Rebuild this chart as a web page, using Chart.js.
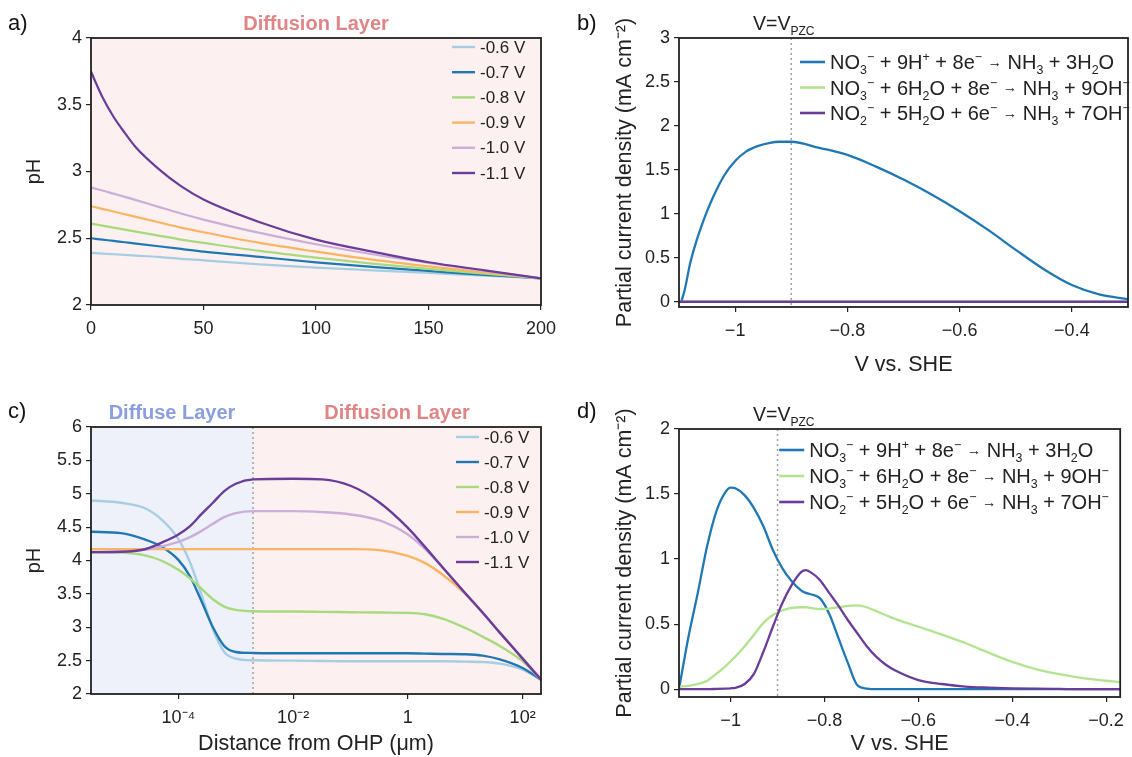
<!DOCTYPE html>
<html>
<head>
<meta charset="utf-8">
<script src="https://cdn.jsdelivr.net/npm/chart.js@4.4.1/dist/chart.umd.min.js"></script>
<style>
  body { margin: 0; background: #fff; width: 1132px; height: 757px; position: relative; overflow: hidden;
         font-family: "Liberation Sans", Arial, sans-serif; }
  canvas { position: absolute; }
  .lbl { position: absolute; font-size: 22px; line-height: 1; color: #111; }
</style>
</head>
<body>
<canvas id="chartA" width="566" height="378" style="left:0;top:0"></canvas>
<canvas id="chartB" width="566" height="378" style="left:566px;top:0"></canvas>
<canvas id="chartC" width="566" height="379" style="left:0;top:378px"></canvas>
<canvas id="chartD" width="566" height="379" style="left:566px;top:378px"></canvas>
<div class="lbl" style="left:8px;top:12px">a)</div>
<div class="lbl" style="left:577px;top:12px">b)</div>
<div class="lbl" style="left:8px;top:400px">c)</div>
<div class="lbl" style="left:577px;top:400px">d)</div>
<script>
// ---- data ----
const voltLabels = ["-0.6 V", "-0.7 V", "-0.8 V", "-0.9 V", "-1.0 V", "-1.1 V"];
const reactLabels = [
  "NO_3^− + 9H^+ + 8e^− → NH_3 + 3H_2O",
  "NO_3^− + 6H_2O + 8e^− → NH_3 + 9OH^−",
  "NO_2^− + 5H_2O + 6e^− → NH_3 + 7OH^−"
];

// a) pH vs distance (um), linear
const distA = [0, 2, 5, 10, 15, 20, 30, 40, 50, 75, 100, 125, 150, 175, 200];
const phA06 = [2.39, 2.388, 2.385, 2.38, 2.375, 2.37, 2.36, 2.345, 2.335, 2.305, 2.28, 2.26, 2.24, 2.22, 2.20];
const phA07 = [2.50, 2.496, 2.49, 2.48, 2.47, 2.46, 2.44, 2.42, 2.40, 2.36, 2.32, 2.285, 2.255, 2.225, 2.20];
const phA08 = [2.61, 2.604, 2.595, 2.58, 2.565, 2.55, 2.52, 2.49, 2.465, 2.405, 2.355, 2.31, 2.27, 2.235, 2.20];
const phA09 = [2.74, 2.732, 2.72, 2.70, 2.68, 2.66, 2.62, 2.58, 2.545, 2.465, 2.40, 2.34, 2.29, 2.245, 2.20];
const phA10 = [2.88, 2.871, 2.858, 2.834, 2.81, 2.786, 2.735, 2.685, 2.64, 2.54, 2.455, 2.38, 2.315, 2.255, 2.20];
const phA11 = [3.75, 3.67, 3.56, 3.41, 3.29, 3.18, 3.02, 2.89, 2.79, 2.62, 2.49, 2.40, 2.32, 2.26, 2.20];

// b) partial current density vs potential
const potB = [-1.096, -1.09, -1.08, -1.07, -1.06, -1.05, -1.04, -1.02, -1.0, -0.98, -0.96, -0.94, -0.92,
              -0.9, -0.85, -0.8, -0.75, -0.7, -0.65, -0.6, -0.55, -0.5, -0.45, -0.4, -0.35, -0.3];
const jB1 = [0, 0.13, 0.44, 0.67, 0.86, 1.03, 1.18, 1.43, 1.60, 1.71, 1.77, 1.805, 1.82,
             1.82, 1.75, 1.67, 1.54, 1.39, 1.22, 1.03, 0.82, 0.59, 0.37, 0.19, 0.08, 0.03];
const potB0 = [-1.1, -0.3];
const jB2 = [0, 0];
const jB3 = [0, 0];

// c) pH vs distance (um), log
const distC = [3e-6, 1e-5, 2.5e-5, 5e-5, 1e-4, 1.6e-4, 2.5e-4, 4e-4, 6.3e-4, 1e-3, 2e-3, 1e-2, 3.2e-2,
               0.1, 0.32, 1, 2, 4, 10, 20, 40, 100, 209];
const phC06 = [4.90, 4.865, 4.79, 4.62, 4.32, 3.97, 3.50, 2.97, 2.63, 2.53, 2.505, 2.50, 2.495,
               2.49, 2.49, 2.49, 2.49, 2.49, 2.485, 2.48, 2.455, 2.365, 2.215];
const phC07 = [4.43, 4.41, 4.32, 4.21, 4.01, 3.76, 3.40, 3.00, 2.72, 2.63, 2.615, 2.61, 2.61,
               2.61, 2.61, 2.61, 2.605, 2.60, 2.595, 2.575, 2.52, 2.39, 2.215];
const phC08 = [4.13, 4.12, 4.08, 4.00, 3.86, 3.73, 3.58, 3.42, 3.31, 3.26, 3.24, 3.235, 3.23,
               3.225, 3.22, 3.215, 3.195, 3.13, 2.99, 2.86, 2.72, 2.49, 2.215];
const phC09 = [4.17, 4.17, 4.17, 4.17, 4.17, 4.17, 4.17, 4.17, 4.17, 4.17, 4.17, 4.17, 4.17,
               4.17, 4.155, 4.07, 3.96, 3.79, 3.50, 3.22, 2.92, 2.53, 2.215];
const phC10 = [4.12, 4.13, 4.16, 4.21, 4.28, 4.35, 4.44, 4.55, 4.65, 4.71, 4.74, 4.74, 4.725,
               4.69, 4.60, 4.39, 4.17, 3.90, 3.51, 3.22, 2.92, 2.53, 2.215];
const phC11 = [4.125, 4.13, 4.165, 4.265, 4.39, 4.515, 4.69, 4.865, 5.04, 5.15, 5.215, 5.225, 5.215,
               5.12, 4.87, 4.49, 4.20, 3.90, 3.51, 3.22, 2.92, 2.53, 2.215];
const tickValsC = [1e-4, 1e-2, 1, 100];
const tickLabelsC = ["10⁻⁴", "10⁻²", "1", "10²"];

// d) partial current density vs potential
const potD = [-1.11, -1.09, -1.07, -1.05, -1.03, -1.01, -1.0, -0.99, -0.97, -0.95, -0.93, -0.91,
              -0.89, -0.87, -0.85, -0.84, -0.83, -0.81, -0.79, -0.77, -0.75, -0.73, -0.71, -0.69,
              -0.67, -0.65, -0.6, -0.55, -0.5, -0.45, -0.4, -0.35, -0.3, -0.25, -0.2, -0.17];
const jD1 = [0, 0.40, 0.74, 1.10, 1.37, 1.52, 1.55, 1.545, 1.49, 1.39, 1.25, 1.07,
             0.93, 0.83, 0.76, 0.74, 0.73, 0.70, 0.58, 0.39, 0.20, 0.03, 0.005, 0,
             0, 0, 0, 0, 0, 0, 0, 0, 0, 0, 0, 0];
const jD2 = [0.02, 0.025, 0.04, 0.065, 0.12, 0.18, 0.215, 0.25, 0.33, 0.42, 0.51, 0.57,
             0.605, 0.625, 0.63, 0.63, 0.625, 0.615, 0.62, 0.63, 0.64, 0.645, 0.63, 0.60,
             0.57, 0.54, 0.48, 0.42, 0.355, 0.28, 0.21, 0.155, 0.115, 0.085, 0.065, 0.055];
const jD3 = [0, 0, 0, 0, 0.002, 0.005, 0.007, 0.01, 0.04, 0.12, 0.29, 0.48,
             0.66, 0.80, 0.90, 0.915, 0.90, 0.84, 0.74, 0.64, 0.53, 0.43, 0.33, 0.25,
             0.19, 0.145, 0.07, 0.04, 0.02, 0.012, 0.007, 0.004, 0.002, 0, 0, 0];

const ticksPh = [2, 2.5, 3, 3.5, 4, 4.5, 5, 5.5, 6];
const ticksJB = [0, 0.5, 1, 1.5, 2, 2.5, 3];
const ticksJD = [0, 0.5, 1, 1.5, 2];
const ticksVB = [-1, -0.8, -0.6, -0.4];
const ticksVD = [-1, -0.8, -0.6, -0.4, -0.2];

// ---- styling ----
const FONT = '"Liberation Sans", Arial, sans-serif';
Chart.defaults.font.family = FONT;
Chart.defaults.color = "#222";
const voltColors = ["#a6cee3", "#1f78b4", "#a8d97c", "#fcb462", "#cbaed8", "#6a3d9a"];
const reactColors = ["#1f78b4", "#b2e38f", "#6a3d9a"];
const PINK = "#fcf0f0", LAV = "#eef1f9";

function richParts(str) {
  const out = [];
  let i = 0;
  while (i < str.length) {
    let c = str[i], mode = 0;
    if ((c === "_" || c === "^") && i + 1 < str.length) {
      mode = c === "_" ? 1 : 2;
      i++;
      if (str[i] === "{") { const j = str.indexOf("}", i); c = str.slice(i + 1, j); i = j + 1; }
      else { c = str[i]; i++; }
    } else i++;
    out.push({ t: c, mode });
  }
  return out;
}
function drawRich(ctx, str, x, y, size) {
  richParts(str).forEach(p => {
    let s = size, dy = 0;
    if (p.mode === 1) { s = size * 0.62; dy = size * 0.26; }
    else if (p.mode === 2) { s = size * 0.62; dy = -size * 0.4; }
    else if (p.t === "→") { s = size * 0.72; dy = -size * 0.12; }
    ctx.font = s + "px " + FONT;
    ctx.fillText(p.t, x, y + dy);
    x += ctx.measureText(p.t).width;
  });
}

const decor = {
  id: "decor",
  beforeDraw(chart, args, o) {
    const { ctx, chartArea: a } = chart;
    const x = chart.scales.x;
    ctx.save();
    (o.bands || []).forEach(b => {
      const x0 = b.from == null ? a.left : x.getPixelForValue(b.from);
      const x1 = b.to == null ? a.right : x.getPixelForValue(b.to);
      ctx.fillStyle = b.color;
      ctx.fillRect(x0, a.top, x1 - x0, a.bottom - a.top);
      if (b.title) {
        ctx.fillStyle = b.titleColor;
        ctx.font = "bold 20px " + FONT;
        ctx.textAlign = "center";
        ctx.textBaseline = "alphabetic";
        ctx.fillText(b.title, (x0 + x1) / 2, a.top - 8);
      }
    });
    if (o.vline != null) {
      const px = x.getPixelForValue(o.vline);
      ctx.strokeStyle = "#a0a0a0";
      ctx.lineWidth = 1.5;
      ctx.setLineDash([2, 3]);
      ctx.beginPath();
      ctx.moveTo(px, a.top);
      ctx.lineTo(px, a.bottom);
      ctx.stroke();
      ctx.setLineDash([]);
    }
    if (o.pzc) {
      ctx.fillStyle = "#222";
      ctx.textAlign = "left";
      ctx.textBaseline = "alphabetic";
      drawRich(ctx, "V=V_{PZC}", a.left + 74, a.top - 8, 19.5);
    }
    ctx.restore();
  },
  afterDraw(chart, args, o) {
    const { ctx, chartArea: a } = chart;
    ctx.save();
    ctx.strokeStyle = "#222";
    ctx.lineWidth = 1.8;
    ctx.strokeRect(a.left, a.top, a.right - a.left, a.bottom - a.top);
    const lg = o.legend;
    if (lg) {
      chart.data.datasets.forEach((ds, i) => {
        const y = a.top + lg.y + i * lg.dy;
        const x0 = a.right - lg.x;
        ctx.strokeStyle = ds.borderColor;
        ctx.lineWidth = lg.lw;
        ctx.beginPath();
        ctx.moveTo(x0, y);
        ctx.lineTo(x0 + lg.len, y);
        ctx.stroke();
        ctx.fillStyle = "#222";
        ctx.textAlign = "left";
        if (lg.rich) {
          ctx.textBaseline = "alphabetic";
          drawRich(ctx, ds.label, x0 + lg.len + 5, y + lg.size * 0.36, lg.size);
        } else {
          ctx.textBaseline = "middle";
          ctx.font = lg.size + "px " + FONT;
          ctx.fillText(ds.label, x0 + lg.len + 5, y + 1);
        }
      });
    }
    ctx.restore();
  }
};
Chart.register(decor);

function series(label, xs, ys, color, width, i) {
  return {
    label, borderColor: color, backgroundColor: color, borderWidth: width,
    data: xs.map((x, k) => ({ x, y: ys[k] })),
    pointRadius: 0, cubicInterpolationMode: "monotone", order: -i
  };
}
const minus = v => (v < 0 ? "−" + Math.abs(v) : String(v));

function axis(extra, fit, ticks, titleText, titleSize, titlePad) {
  const ax = Object.assign({
    grid: { drawOnChartArea: false, drawTicks: true, tickLength: 5, color: "#222", lineWidth: 1.2 },
    border: { display: false },
    ticks: Object.assign({ color: "#222", font: { size: 18 }, padding: 4, maxRotation: 0, autoSkip: false,
                           callback: minus }, ticks || {}),
    afterFit: fit
  }, extra);
  if (titleText) {
    ax.title = { display: true, text: titleText, color: "#222",
                 font: { size: titleSize, lineHeight: 1.2 }, padding: { top: titlePad, bottom: 0 } };
  }
  return ax;
}
function setTicks(vals) {
  return s => { s.ticks = vals.map(v => ({ value: v })); };
}
function baseOpts(pad, scales, decorOpts) {
  return {
    responsive: false, animation: false, events: [],
    layout: { padding: pad },
    plugins: { legend: { display: false }, tooltip: { enabled: false }, decor: decorOpts },
    scales
  };
}

// a)
new Chart(document.getElementById("chartA"), {
  type: "line",
  data: { datasets: [phA06, phA07, phA08, phA09, phA10, phA11].map((d, i) =>
    series(voltLabels[i], distA, d, voltColors[i], 2.2, i)) },
  options: baseOpts({ left: 0, top: 38, right: 25, bottom: 0 }, {
    x: axis({ type: "linear", min: 0, max: 200, afterBuildTicks: setTicks([0, 50, 100, 150, 200]) },
      s => { s.height = 73; }, { padding: 8 }),
    y: axis({ type: "linear", min: 2, max: 4, afterBuildTicks: setTicks(ticksPh.slice(0, 5)) },
      s => { s.width = 91; }, null, "pH", 20, 22)
  }, {
    bands: [{ color: PINK, title: "Diffusion Layer", titleColor: "#e08585" }],
    legend: { x: 89, y: 9, dy: 25.2, len: 23, lw: 2.4, size: 17 }
  })
});

// b)
new Chart(document.getElementById("chartB"), {
  type: "line",
  data: { datasets: [
    series(reactLabels[0], potB, jB1, reactColors[0], 2.3, 0),
    series(reactLabels[1], potB0, jB2, reactColors[1], 2.3, 1),
    series(reactLabels[2], potB0, jB3, reactColors[2], 2.3, 2)
  ] },
  options: baseOpts({ left: 0, top: 38, right: 4, bottom: 0 }, {
    x: axis({ type: "linear", min: -1.1, max: -0.3, afterBuildTicks: setTicks(ticksVB) },
      s => { s.height = 71; }, { padding: 8 }, "V vs. SHE", 21.5, 13),
    y: axis({ type: "linear", min: -0.06, max: 3, afterBuildTicks: setTicks(ticksJB) },
      s => { s.width = 113; }, null, "Partial current density (mA cm⁻²)", 21.5, 46)
  }, {
    vline: -0.9, pzc: true,
    legend: { x: 328, y: 24, dy: 25.5, len: 25, lw: 2.6, size: 20, rich: true }
  })
});

// c)
new Chart(document.getElementById("chartC"), {
  type: "line",
  data: { datasets: [phC06, phC07, phC08, phC09, phC10, phC11].map((d, i) =>
    series(voltLabels[i], distC, d, voltColors[i], 2.4, i)) },
  options: baseOpts({ left: 0, top: 49, right: 25, bottom: 0 }, {
    x: axis({ type: "logarithmic", min: 3e-6, max: 209, afterBuildTicks: setTicks(tickValsC) },
      s => { s.height = 63; },
      { padding: 8, callback: v => tickLabelsC[tickValsC.indexOf(v)] },
      "Distance from OHP (μm)", 21.5, 0),
    y: axis({ type: "linear", min: 2, max: 6, afterBuildTicks: setTicks(ticksPh) },
      s => { s.width = 91; }, null, "pH", 20, 22)
  }, {
    bands: [
      { to: 2e-3, color: LAV, title: "Diffuse Layer", titleColor: "#8a9ee0" },
      { from: 2e-3, color: PINK, title: "Diffusion Layer", titleColor: "#e08585" }
    ],
    vline: 2e-3,
    legend: { x: 85, y: 10, dy: 25, len: 23, lw: 2.4, size: 17 }
  })
});

// d)
new Chart(document.getElementById("chartD"), {
  type: "line",
  data: { datasets: [jD1, jD2, jD3].map((d, i) => series(reactLabels[i], potD, d, reactColors[i], 2.3, i)) },
  options: baseOpts({ left: 0, top: 51, right: 4, bottom: 0 }, {
    x: axis({ type: "linear", min: -1.11, max: -0.17, afterBuildTicks: setTicks(ticksVD) },
      s => { s.height = 60; }, { padding: 8 }, "V vs. SHE", 21.5, 0),
    y: axis({ type: "linear", min: -0.06, max: 2, afterBuildTicks: setTicks(ticksJD) },
      s => { s.width = 113; }, null, "Partial current density (mA cm⁻²)", 21.5, 46)
  }, {
    vline: -0.9, pzc: true,
    legend: { x: 341, y: 21, dy: 26, len: 25, lw: 2.6, size: 20, rich: true }
  })
});
</script>
</body>
</html>
